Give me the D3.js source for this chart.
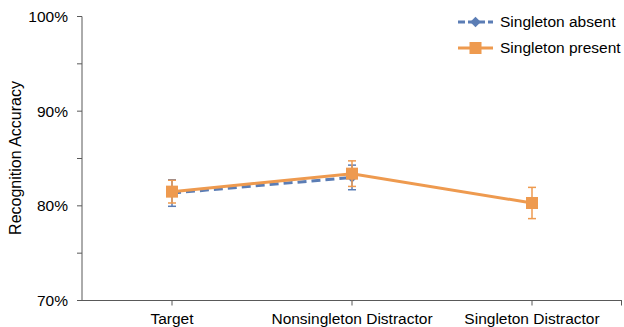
<!DOCTYPE html>
<html><head><meta charset="utf-8">
<script src="https://cdn.jsdelivr.net/npm/d3@7"></script>
<style>body{margin:0;background:#fff}svg{display:block;font-family:"Liberation Sans",Arial,sans-serif}</style>
</head><body><svg id="c" width="624" height="327"></svg>
<script>
const categories = ["Target", "Nonsingleton Distractor", "Singleton Distractor"];
const absentValues = [81.35, 83.0];
const absentErrors = [1.4, 1.3];
const presentValues = [81.5, 83.4, 80.3];
const presentErrors = [1.2, 1.35, 1.65];
const yTicks = [70, 80, 90, 100];
const yMinorTicks = [75, 85, 95];
const seriesNames = ["Singleton absent", "Singleton present"];

const blue = "#5b7db5", orange = "#ee9a4f", axisCol = "#595959";
const fs = 15.5;
const svg = d3.select("#c");
const x = d3.scaleBand().domain(categories).range([82, 622]);
const y = d3.scaleLinear().domain([70, 100]).range([300.5, 16.5]);
const cx = c => x(c) + x.bandwidth() / 2;

// y axis
const ya = svg.append("g").attr("transform", "translate(82,0)");
ya.append("line").attr("y1", y(100)).attr("y2", y(70)).attr("stroke", axisCol);
ya.selectAll(".mj").data(yTicks.concat(yMinorTicks)).join("line")
  .attr("x1", -5).attr("x2", 0).attr("y1", d => y(d)).attr("y2", d => y(d)).attr("stroke", axisCol);
ya.selectAll("text").data(yTicks).join("text")
  .attr("x", -14).attr("y", d => y(d)).attr("dy", "0.35em").attr("text-anchor", "end")
  .attr("font-size", fs).attr("fill", "#000").text(d => d + "%");

// x axis
const xa = svg.append("g");
xa.append("line").attr("x1", 82).attr("x2", 622).attr("y1", y(70)).attr("y2", y(70)).attr("stroke", axisCol);
const xt = categories.map(cx).concat([x.range()[1] - 0.5]);
xa.selectAll(".t").data(xt).join("line").attr("x1", d => d).attr("x2", d => d)
  .attr("y1", y(70)).attr("y2", y(70) + 5).attr("stroke", axisCol);
xa.selectAll("text").data(categories).join("text")
  .attr("x", cx).attr("y", 324).attr("text-anchor", "middle").attr("font-size", fs).text(d => d);

// y title
svg.append("text").attr("transform", "translate(21,158) rotate(-90)")
  .attr("text-anchor", "middle").attr("font-size", 16).text("Recognition Accuracy");

function drawSeries(vals, errs, color, dashed, marker) {
  const cats = categories.slice(0, vals.length);
  const g = svg.append("g");
  cats.forEach((c, i) => {
    const px = cx(c);
    g.append("line").attr("x1", px).attr("x2", px).attr("y1", y(vals[i] + errs[i])).attr("y2", y(vals[i] - errs[i]))
      .attr("stroke", color).attr("stroke-width", 1.5);
    [vals[i] + errs[i], vals[i] - errs[i]].forEach(v => {
      g.append("line").attr("x1", px - 4).attr("x2", px + 4).attr("y1", y(v)).attr("y2", y(v))
        .attr("stroke", color).attr("stroke-width", 1.5);
    });
  });
  const line = d3.line().x((d, i) => cx(cats[i])).y(d => y(d));
  g.append("path").datum(vals).attr("d", line).attr("fill", "none").attr("stroke", color)
    .attr("stroke-width", 3).attr("stroke-dasharray", dashed ? "9,5" : null);
  cats.forEach((c, i) => {
    const px = cx(c), py = y(vals[i]);
    if (marker === "square") g.append("rect").attr("x", px - 6).attr("y", py - 6).attr("width", 12).attr("height", 12).attr("fill", color);
    else g.append("path").attr("d", d3.symbol(d3.symbolDiamond2, 70)()).attr("transform", `translate(${px},${py})`).attr("fill", color);
  });
}
drawSeries(absentValues, absentErrors, blue, true, "diamond");
drawSeries(presentValues, presentErrors, orange, false, "square");

// legend
const leg = svg.append("g");
[[blue, true, "diamond", 22], [orange, false, "square", 48]].forEach((s, i) => {
  leg.append("line").attr("x1", 458).attr("x2", 493).attr("y1", s[3]).attr("y2", s[3])
    .attr("stroke", s[0]).attr("stroke-width", 3).attr("stroke-dasharray", s[1] ? "7,3" : null);
  if (s[2] === "square") leg.append("rect").attr("x", 469.5).attr("y", s[3] - 6).attr("width", 12).attr("height", 12).attr("fill", s[0]);
  else leg.append("path").attr("d", d3.symbol(d3.symbolDiamond2, 70)()).attr("transform", `translate(475.5,${s[3]})`).attr("fill", s[0]);
  leg.append("text").attr("x", 500).attr("y", s[3]).attr("dy", "0.35em").attr("font-size", fs).text(seriesNames[i]);
});
</script></body></html>
